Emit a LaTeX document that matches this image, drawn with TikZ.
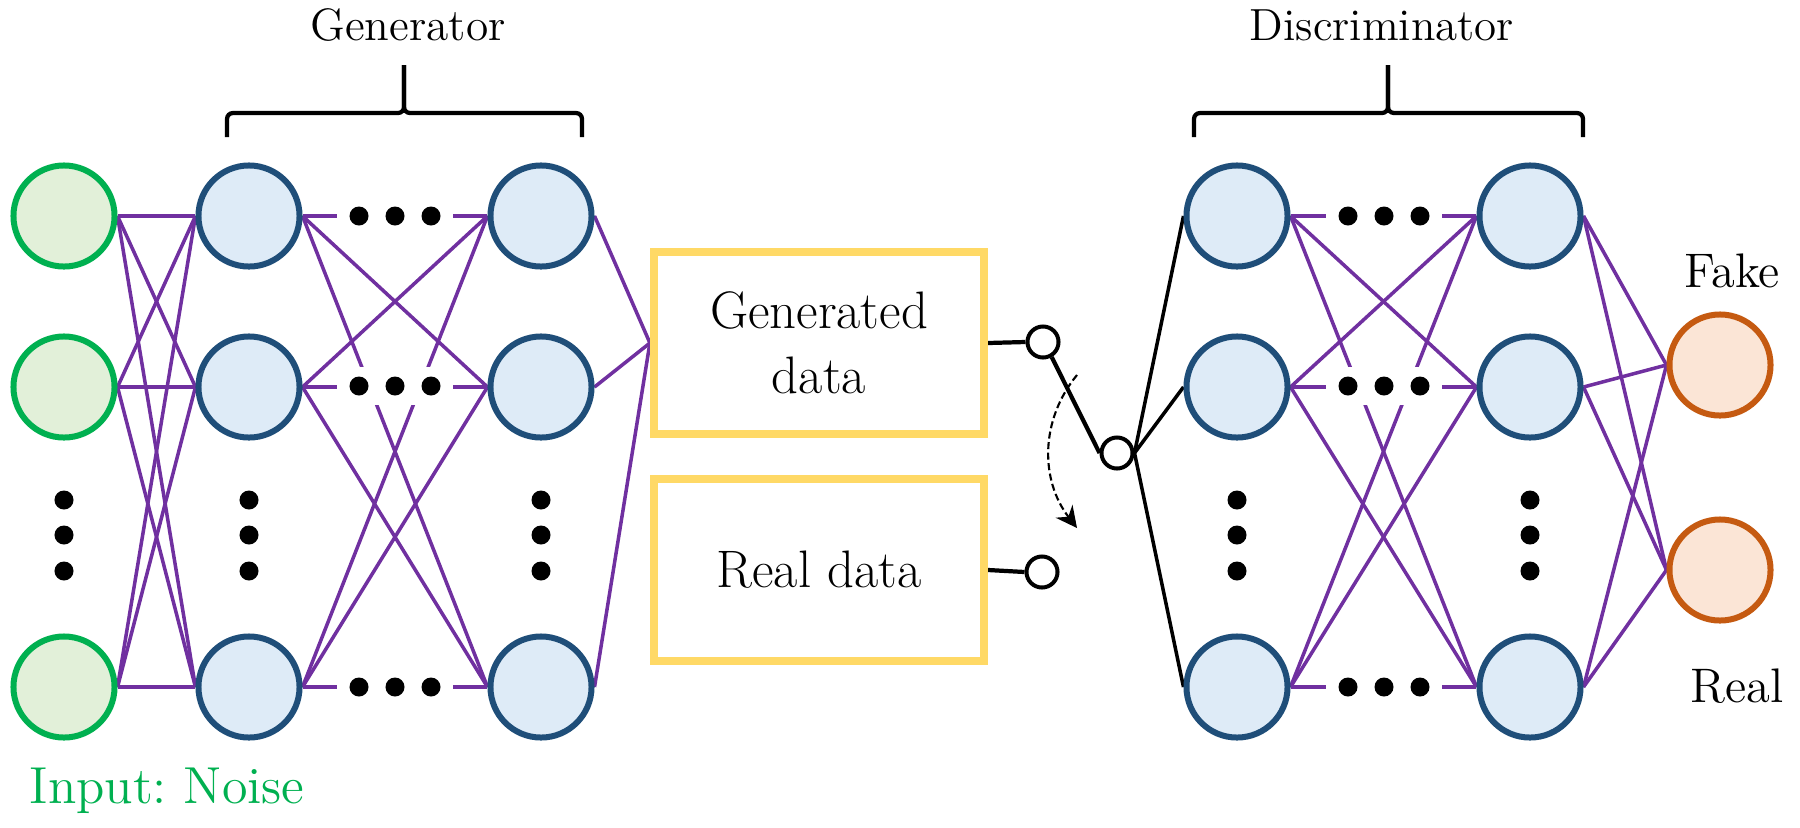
\documentclass[tikz,border=0pt]{standalone}
\usetikzlibrary{arrows.meta}
\pgfdeclarelayer{bg}
\pgfsetlayers{bg,main}
\definecolor{ngreen}{HTML}{00B050}
\definecolor{nfillg}{HTML}{E2F0D9}
\definecolor{nblue}{HTML}{1F4E79}
\definecolor{nfillb}{HTML}{DEEBF7}
\definecolor{norange}{HTML}{C55A11}
\definecolor{nfillo}{HTML}{FBE5D6}
\definecolor{npurple}{HTML}{7030A0}
\definecolor{nyellow}{HTML}{FFD966}
\newcommand\hdotrow[3]{%
  \node[mask] (#1) at (#2,#3) {};
  \node[dotnode] (#1a) at (#2-36,#3) {};
  \node[dotnode] (#1b) at (#2,#3) {};
  \node[dotnode] (#1c) at (#2+36,#3) {};}
\newcommand\vdotcol[2]{%
  \node[dotnode] (#1a) at (#2,500) {};
  \node[dotnode] (#1b) at (#2,535) {};
  \node[dotnode] (#1c) at (#2,571) {};}
\begin{document}
\frenchspacing
\begin{tikzpicture}[x=0.01cm,y=-0.01cm,
  neuron/.style={circle,minimum size=1.01cm,inner sep=0pt,line width=0.06cm},
  innode/.style={neuron,draw=ngreen,fill=nfillg},
  hidnode/.style={neuron,draw=nblue,fill=nfillb},
  outnode/.style={neuron,draw=norange,fill=nfillo},
  wire/.style={npurple,line width=1pt},
  swire/.style={black,line width=1.2pt},
  dwire/.style={black,line width=1pt},
  databox/.style={draw=nyellow,line width=0.08cm,minimum width=3.30cm,minimum height=1.82cm,inner sep=0pt,align=center,font=\fontsize{15}{18.5}\selectfont},
  contact/.style={circle,draw=black,fill=white,line width=0.04cm,minimum size=0.31cm,inner sep=0pt},
  dotnode/.style={circle,fill=black,minimum size=0.19cm,inner sep=0pt},
  mask/.style={fill=white,minimum width=1.16cm,minimum height=0.37cm,inner sep=0pt},
  lbl/.style={anchor=base,inner sep=0pt},
  brace/.style={black,line width=1.2pt,rounded corners=0.06cm}
]
\useasboundingbox (0,0) rectangle (1800,827);

% input layer
\node[innode] (i1) at (64,216) {};
\node[innode] (i2) at (64,387) {};
\node[innode] (i3) at (64,687) {};
% hidden layers
\foreach \r/\y in {1/216,2/387,3/687}{
  \node[hidnode] (g1\r) at (249,\y) {};
  \node[hidnode] (g2\r) at (541,\y) {};
  \node[hidnode] (d1\r) at (1237,\y) {};
  \node[hidnode] (d2\r) at (1530,\y) {};
}
% outputs
\node[outnode] (fake) at (1720,365) {};
\node[outnode] (real) at (1720,570) {};

% data boxes
\node[databox] (gen) at (819,343) {Generated\\data};
\node[databox] (realbox) at (819,570) {Real data};

% switch
\node[contact] (cg) at (1043,342) {};
\node[contact] (cr) at (1042,572) {};
\node[contact] (pv) at (1117,453) {};

% dots
\hdotrow{gm1}{395}{216}
\hdotrow{gm2}{395}{386}
\hdotrow{gm3}{395}{687}
\hdotrow{dm1}{1384}{216}
\hdotrow{dm2}{1384}{386}
\hdotrow{dm3}{1384}{687}
\vdotcol{vi}{64}
\vdotcol{vg}{249}
\vdotcol{vh}{541}
\vdotcol{vd}{1237}
\vdotcol{ve}{1530}

\begin{pgfonlayer}{bg}
\foreach \a in {1,2,3}{
  \foreach \b in {1,2,3}{
    \draw[wire] (i\a.east) -- (g1\b.west);
    \draw[wire] (g1\a.east) -- (g2\b.west);
    \draw[wire] (d1\a.east) -- (d2\b.west);
  }
  \draw[wire] (g2\a.east) -- (gen.west);
  \draw[wire] (d2\a.east) -- (fake.west);
  \draw[wire] (d2\a.east) -- (real.west);
  \draw[dwire] (pv.east) -- (d1\a.west);
}
\end{pgfonlayer}

\draw[swire] (gen.east) -- (cg.west);
\draw[swire] (realbox.east) -- (cr.west);
\draw[swire] (cg.-60) -- (pv.west);

\coordinate (arrS) at (1077,375);
\coordinate (arrE) at (1077,528);
\draw[black,line width=0.6pt,dash pattern=on 2pt off 1pt,-{Stealth[length=6pt,width=6pt]}]
  (arrS) .. controls (1040,420) and (1040,480) .. (arrE);

% braces
\coordinate (gbl) at (227,137);
\coordinate (gbr) at (582,137);
\coordinate (gbm) at (404,113);
\coordinate (gbt) at (404,65);
\draw[brace] (gbl) -- (227,113) -- (gbm) -- (gbt);
\draw[brace] (gbr) -- (582,113) -- (gbm) -- (gbt);
\coordinate (dbl) at (1194,137);
\coordinate (dbr) at (1583,137);
\coordinate (dbm) at (1388,113);
\coordinate (dbt) at (1388,65);
\draw[brace] (dbl) -- (1194,113) -- (dbm) -- (dbt);
\draw[brace] (dbr) -- (1583,113) -- (dbm) -- (dbt);

% labels
\node[lbl,font=\fontsize{12.9}{15}\selectfont] (glabel) at (408,40) {Generator};
\node[lbl,font=\fontsize{12.8}{15}\selectfont] (dlabel) at (1382,40) {Discriminator};
\node[lbl,font=\fontsize{13.8}{16}\selectfont] (fakelabel) at (1732,287) {Fake};
\node[lbl,font=\fontsize{13.8}{16}\selectfont] (reallabel) at (1737,702) {Real};
\node[lbl,anchor=base west,text=ngreen,font=\fontsize{14.8}{17}\selectfont] (noise) at (29,803) {Input: Noise};
\end{tikzpicture}
\end{document}
